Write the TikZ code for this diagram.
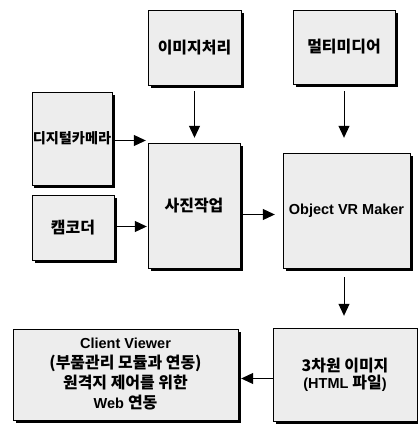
\documentclass[tikz,border=0pt]{standalone}
\usepackage{fontspec}
\setmainfont{Liberation Sans}
\newfontfamily\krfont{Noto Sans CJK KR}[Scale=1.1]
\newcommand\kr[1]{{\krfont #1}}
\usetikzlibrary{arrows.meta,shadows}

\begin{document}
\begin{tikzpicture}[x=1pt, y=-1pt,
  box/.style={draw, thin, fill=gray!14, align=center, inner sep=1pt,
    font=\fontsize{14.5}{17}\selectfont\bfseries,
    drop shadow={shadow xshift=2.5pt, shadow yshift=-2.5pt, fill=black, opacity=1}},
  arr/.style={-{Triangle[length=12pt,width=11pt]}, line width=1pt}]
\useasboundingbox (0,0) rectangle (418,432);

% --- sources ---
\node[box, minimum width=93pt, minimum height=75pt] (imgproc) at (194.5,47.5) {\kr{이미지처리}};
\node[box, minimum width=102pt, minimum height=74pt] (multi) at (344,47) {\kr{멀티미디어}};
\node[box, minimum width=80pt, minimum height=93pt,
  font=\fontsize{12.9}{17}\selectfont\bfseries] (dcam) at (72,138.5) {\kr{디지털카메라}};
\node[box, minimum width=82pt, minimum height=65pt] (camcorder) at (73,227.5) {\kr{캠코더}};

% --- processing ---
\node[box, minimum width=92pt, minimum height=125pt] (photo) at (194,205.5) {\kr{사진작업}};
\node[box, minimum width=127pt, minimum height=115pt] (vrmaker) at (346.5,210.5) {Object VR Maker};

% --- output ---
\node[box, minimum width=144pt, minimum height=93pt] (html3d) at (345,374.5) {\kr{3차원 이미지}\\(HTML \kr{파일})};
\node[box, minimum width=225pt, minimum height=91pt,
  font=\fontsize{14.5}{20}\selectfont\bfseries] (viewer) at (125.5,374.5)
  {Client Viewer\\\kr{(부품관리 모듈과 연동)}\\\kr{원격지 제어를 위한}\\Web \kr{연동}};

% --- connectors ---
\draw[arr, shorten <=6pt, shorten >=5pt] (imgproc) -- (imgproc |- photo.north);
\draw[arr, shorten <=7pt, shorten >=15pt] (multi) -- (multi |- vrmaker.north);
\draw[arr, shorten >=2pt] ([yshift=-2pt]dcam.east) -- ([yshift=-2pt]dcam.east -| photo.west);
\draw[arr, shorten >=1pt] ([yshift=1pt]camcorder.east) -- ([yshift=1pt]camcorder.east -| photo.west);
\draw[arr, shorten <=3pt, shorten >=8pt] ([yshift=-9pt]photo.east) -- ([yshift=-9pt]photo.east -| vrmaker.west);
\draw[arr, shorten <=9pt, shorten >=12pt] (vrmaker.south -| multi) -- (html3d.north -| multi);
\draw[arr, shorten >=3pt] ([yshift=-4pt]html3d.west) -- ([yshift=-4pt]html3d.west -| viewer.east);
\end{tikzpicture}
\end{document}
